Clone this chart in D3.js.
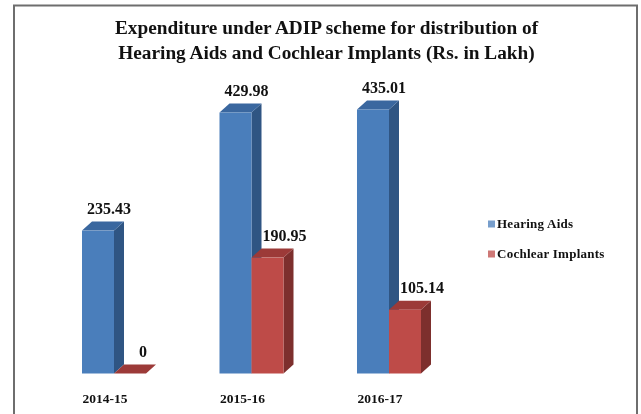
<!DOCTYPE html>
<html><head><meta charset="utf-8">
<script src="https://cdn.jsdelivr.net/npm/d3@7/dist/d3.min.js"></script>
<style>html,body{margin:0;padding:0;background:#fff}svg{display:block;filter:blur(.7px)}text{font-family:"Liberation Serif",serif;font-weight:bold;fill:#111}</style>
</head><body><svg id="c" width="641" height="414"></svg>
<script>
const categories = ["2014-15","2015-16","2016-17"];
const hearingAids = [235.43,429.98,435.01];
const cochlearImplants = [0,190.95,105.14];
const seriesNames = ["Hearing Aids","Cochlear Implants"];
const titleLines = ["Expenditure under ADIP scheme for distribution of","Hearing Aids and Cochlear Implants (Rs. in Lakh)"];
const labelText = [["235.43","429.98","435.01"],["0","190.95","105.14"]];
const palette = [{front:"#4a7ebb",side:"#2f5583",top:"#3a679f"},{front:"#be4b48",side:"#7d2f2d",top:"#9c3a38"}];

const svg = d3.select("#c");
svg.append("rect").attr("x",14).attr("y",5.5).attr("width",623).attr("height",420).attr("fill","#fff").attr("stroke","#6e6e6e").attr("stroke-width",2);

const x0 = d3.scaleBand().domain(categories).range([82,421]).paddingInner(0.5345).paddingOuter(0);
const x1 = d3.scaleBand().domain([0,1]).range([0,x0.bandwidth()]);
const y = d3.scaleLinear().domain([0,435.01]).range([373.5,109.5]);
const dx = 10, dy = 9;
const series = [hearingAids,cochlearImplants];

series.forEach((vals,s)=>{
  const g = svg.append("g");
  const c = palette[s];
  const bars = g.selectAll("g").data(categories.map((k,i)=>({k,v:vals[i],i}))).join("g");
  const L = d=>x0(d.k)+x1(s), R = d=>L(d)+x1.bandwidth();
  bars.append("path").attr("fill",c.side).attr("d",d=>`M${R(d)},${y(d.v)}L${R(d)+dx},${y(d.v)-dy}L${R(d)+dx},${y(0)-dy}L${R(d)},${y(0)}Z`);
  bars.append("path").attr("fill",c.top).attr("d",d=>`M${L(d)},${y(d.v)}L${L(d)+dx},${y(d.v)-dy}L${R(d)+dx},${y(d.v)-dy}L${R(d)},${y(d.v)}Z`);
  bars.append("rect").attr("fill",c.front).attr("x",L).attr("y",d=>y(d.v)).attr("width",x1.bandwidth()).attr("height",d=>y(0)-y(d.v));
});

series.forEach((vals,s)=>{
  svg.append("g").selectAll("text").data(vals).join("text")
    .attr("x",(d,i)=>x0(categories[i])+x1(s)+x1.bandwidth()/2+(s?(d?17:13):11))
    .attr("y",d=>y(d)-17)
    .attr("text-anchor","middle").attr("font-size",16)
    .text((d,i)=>labelText[s][i]);
});

svg.append("g").selectAll("text").data(categories).join("text")
  .attr("x",d=>x0(d)+x0.bandwidth()/2-9).attr("y",402.5)
  .attr("text-anchor","middle").attr("font-size",13.5).text(d=>d);

svg.append("g").selectAll("text").data(titleLines).join("text")
  .attr("x",326.5).attr("y",(d,i)=>34+i*25)
  .attr("text-anchor","middle").attr("font-size",19.3).text(d=>d);

const leg = svg.append("g").selectAll("g").data(seriesNames).join("g")
  .attr("transform",(d,i)=>`translate(488,${224+i*30})`);
leg.append("rect").attr("width",7).attr("height",7).attr("y",-3.5).attr("fill",(d,i)=>palette[i].front).attr("opacity",.75);
leg.append("text").attr("x",9).attr("y",4).attr("font-size",13).attr("letter-spacing",.25).text(d=>d);
</script></body></html>
